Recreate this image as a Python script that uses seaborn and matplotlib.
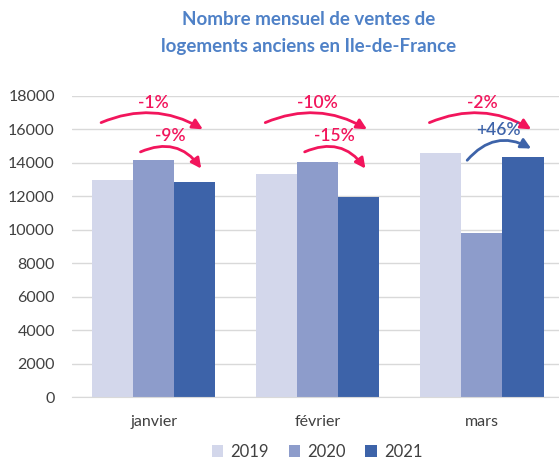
import pandas as pd
import matplotlib
matplotlib.use("Agg")
import matplotlib.pyplot as plt
import seaborn as sns

# values
months = ['janvier', 'février', 'mars']
years = ['2019', '2020', '2021']
sales_2019 = [12950, 13330, 14580]
sales_2020 = [14170, 14050, 9800]
sales_2021 = [12880, 11960, 14350]

# percentage labels as printed on the chart (outer: vs 2019, inner: vs 2020)
pct_vs_2019 = ['-1%', '-10%', '-2%']
pct_vs_2020 = ['-9%', '-15%', '+46%']

colors = ['#D3D7EB', '#8D9CCB', '#3D63A9']
pink = '#F2155C'
blue = '#3D63A9'

df = pd.DataFrame({
    'mois': months * 3,
    'annee': [y for y in years for _ in months],
    'ventes': sales_2019 + sales_2020 + sales_2021,
})

sns.set_style("white")
plt.rcParams['font.family'] = ['Lato', 'DejaVu Sans']

fig = plt.figure(figsize=(5.59, 4.63), dpi=100)
ax = fig.add_axes([0.128, 0.1425, 0.881, 0.6505])

sns.barplot(data=df, x='mois', y='ventes', hue='annee', palette=colors,
            width=0.75, saturation=1, linewidth=0, ax=ax)

ax.set_ylim(0, 18000)
ax.set_xlim(-0.5, 2.5)
ax.set_yticks(range(0, 18001, 2000))
ax.set_xlabel('')
ax.set_ylabel('')
ax.yaxis.grid(True, color='#D9D9D9', linewidth=1)
ax.set_axisbelow(True)
for s in ['top', 'right', 'left']:
    ax.spines[s].set_visible(False)
ax.spines['bottom'].set_color('#D9D9D9')
ax.tick_params(axis='both', length=0, labelsize=11.5, colors='#404040')
ax.tick_params(axis='x', pad=13)
ax.tick_params(axis='y', pad=12)

arrow_style = '-|>,head_length=0.6,head_width=0.3'

# arrows showing the change, anchored on each month group
for i in range(len(months)):
    # outer arrow 2019 -> 2021
    ax.annotate('', xy=(i + 0.3, 16000), xytext=(i - 0.32, 16400),
                arrowprops=dict(arrowstyle=arrow_style,
                                connectionstyle='arc3,rad=-0.25',
                                color=pink, lw=2, shrinkA=0, shrinkB=0))
    ax.text(i, 17550, pct_vs_2019[i], color=pink, fontsize=12.5,
            fontweight='semibold', ha='center', va='center')
    # inner arrow 2020 -> 2021
    inner_col = blue if pct_vs_2020[i].startswith('+') else pink
    if pct_vs_2020[i].startswith('+'):
        start, end = (i - 0.09, 14150), (i + 0.3, 14850)
    else:
        start, end = (i - 0.08, 14650), (i + 0.29, 13650)
    ax.annotate('', xy=end, xytext=start,
                arrowprops=dict(arrowstyle=arrow_style,
                                connectionstyle='arc3,rad=-0.4',
                                color=inner_col, lw=2, shrinkA=0, shrinkB=0))
    ax.text(i + 0.1, 15600 if inner_col == pink else 15950, pct_vs_2020[i],
            color=inner_col, fontsize=12.5, fontweight='semibold',
            ha='center', va='center')

handles, labels = ax.get_legend_handles_labels()
ax.get_legend().remove()
fig.legend(handles, labels, loc='center', bbox_to_anchor=(0.567, 0.024),
           ncol=3, frameon=False, fontsize=12, handlelength=0.7,
           handleheight=0.7, handletextpad=0.4, columnspacing=1.2,
           labelcolor='#404040')

fig.text(0.552, 0.957, 'Nombre mensuel de ventes de', ha='center', va='center',
         fontsize=13.5, fontweight='bold', color='#4F81C7')
fig.text(0.552, 0.899, 'logements anciens en Ile-de-France', ha='center',
         va='center', fontsize=13.5, fontweight='bold', color='#4F81C7')

fig.savefig('out.png', dpi=100)
